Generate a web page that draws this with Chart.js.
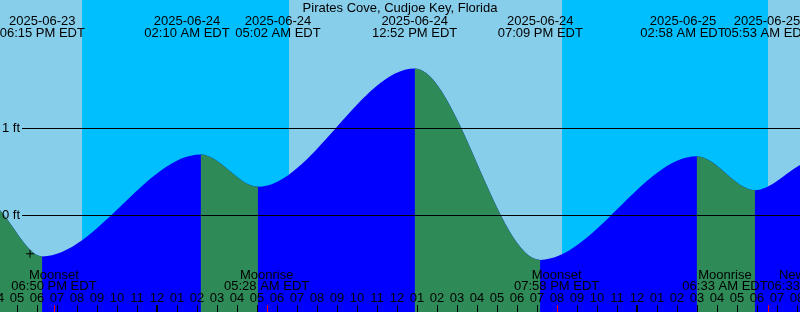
<!DOCTYPE html>
<html>
<head>
<meta charset="utf-8">
<script src="https://cdn.jsdelivr.net/npm/chart.js@4.4.1/dist/chart.umd.min.js"></script>
<style>
  html, body { margin: 0; padding: 0; background: #87ceeb; }
</style>
</head>
<body>
<canvas id="tideChart" width="800" height="312"></canvas>
<script>
// all times are hours counted from 2025-06-23 00:00 EDT
const viewStart = 16.135;
const viewEnd = 56.135;

// tide curve: visible edges plus each high / low
const tideHours  = [16.135, 18.25, 26.167, 29.033, 36.867, 43.15, 50.967, 53.883, 56.135];
const tideLevels = [0.06, -0.47, 0.70, 0.33, 1.69, -0.51, 0.68, 0.29, 0.58];

// labels of the highs / lows along the top
const tideDates = ["2025-06-23", "2025-06-24", "2025-06-24", "2025-06-24", "2025-06-24", "2025-06-25", "2025-06-25"];
const tideTimes = ["06:15 PM EDT", "02:10 AM EDT", "05:02 AM EDT", "12:52 PM EDT", "07:09 PM EDT", "02:58 AM EDT", "05:53 AM EDT"];
const tideLabelHours = [18.25, 25.485, 30.035, 36.867, 43.15, 50.285, 54.485];

// sunset -> sunrise
const nightStarts = [20.235, 44.235];
const nightEnds = [30.585, 54.535];

// moon events
const moonNames = ["Moonset", "Moonrise", "Moonset", "Moonrise", "New Moon"];
const moonTimes = ["06:50 PM EDT", "05:28 AM EDT", "07:58 PM EDT", "06:33 AM EDT", "06:33 AM EDT"];
const moonLabelHours = [18.833, 29.467, 43.967, 52.385, 56.635];
const moonEventHours = [18.833, 29.467, 43.967, 54.55];

// hour ticks along the bottom, one per hour from firstHour
const firstHour = 16;
const hourLabels = [
  "04", "05", "06", "07", "08", "09", "10", "11", "12",
  "01", "02", "03", "04", "05", "06", "07", "08", "09", "10", "11", "12",
  "01", "02", "03", "04", "05", "06", "07", "08", "09", "10", "11", "12",
  "01", "02", "03", "04", "05", "06", "07", "08"
];
const midnightHours = [24, 48];

const levelLines = [0, 1];
const levelLabels = ["0 ft", "1 ft"];

const markerHour = 17.635;
const markerLevel = -0.44;

const title = "Pirates Cove, Cudjoe Key, Florida";

const DAY = "#87ceeb";
const NIGHT = "#00bfff";
const RISING = "#0000ff";
const FALLING = "#2e8b57";
const FONT = "13px 'Liberation Sans', Arial, sans-serif";

const tidePoints = tideHours.map((h, i) => ({ x: h, y: tideLevels[i] }));

// day / night bands behind the tide
const backdrop = {
  id: "backdrop",
  beforeDatasetsDraw(chart) {
    const { ctx, chartArea: a, scales: { x } } = chart;
    ctx.save();
    ctx.fillStyle = DAY;
    ctx.fillRect(a.left, a.top, a.width, a.height);
    ctx.fillStyle = NIGHT;
    nightStarts.forEach((s, i) => {
      const x0 = Math.round(x.getPixelForValue(s));
      const x1 = Math.round(x.getPixelForValue(nightEnds[i]));
      ctx.fillRect(x0, a.top, x1 - x0, a.height);
    });
    ctx.restore();
  }
};

// level lines, texts and hour ticks on top
const overlay = {
  id: "overlay",
  afterDatasetsDraw(chart) {
    const { ctx, chartArea: a, scales: { x, y } } = chart;
    ctx.save();
    ctx.font = FONT;
    ctx.fillStyle = "#000";
    ctx.strokeStyle = "#000";
    ctx.lineWidth = 1;

    // 0 ft / 1 ft
    levelLines.forEach((v, i) => {
      const py = Math.floor(y.getPixelForValue(v)) + 0.5;
      ctx.beginPath();
      ctx.moveTo(22, py);
      ctx.lineTo(a.right, py);
      ctx.stroke();
      ctx.textAlign = "left";
      ctx.textBaseline = "middle";
      ctx.fillText(levelLabels[i], 2, py);
    });

    ctx.textBaseline = "alphabetic";
    ctx.textAlign = "center";
    ctx.fillText(title, 400, 12);

    tideLabelHours.forEach((h, i) => {
      const px = x.getPixelForValue(h);
      ctx.fillText(tideDates[i], px, 24.5);
      ctx.fillText(tideTimes[i], px, 37);
    });

    moonLabelHours.forEach((h, i) => {
      const px = x.getPixelForValue(h);
      ctx.fillText(moonNames[i], px, 278.5);
      ctx.fillText(moonTimes[i], px, 289.5);
    });

    hourLabels.forEach((lab, i) => {
      const h = firstHour + i;
      const px = Math.round(x.getPixelForValue(h));
      ctx.fillText(lab, px, 301.5);
      const thick = midnightHours.includes(h);
      ctx.fillRect(thick ? px - 1 : px, 305, thick ? 2 : 1, 7);
    });

    ctx.fillStyle = "#ff0000";
    moonEventHours.forEach(h => {
      const px = Math.round(x.getPixelForValue(h));
      ctx.fillRect(px, 305, 1, 7);
    });
    ctx.restore();
  }
};

new Chart(document.getElementById("tideChart"), {
  type: "line",
  data: {
    datasets: [
      {
        // current-time cross
        data: [{ x: markerHour, y: markerLevel }],
        showLine: false,
        pointStyle: "cross",
        pointRadius: 4,
        borderColor: "#000",
        borderWidth: 1,
        order: 0
      },
      {
        // falling stretches painted over the rising fill
        data: tidePoints,
        borderColor: "rgba(0,0,0,0)",
        borderWidth: 0,
        pointRadius: 0,
        cubicInterpolationMode: "monotone",
        fill: "start",
        backgroundColor: "rgba(0,0,0,0)",
        segment: {
          backgroundColor: c => (c.p1.parsed.y < c.p0.parsed.y ? FALLING : "rgba(0,0,0,0)")
        },
        order: 1
      },
      {
        // whole water body in the rising colour
        data: tidePoints,
        borderColor: "rgba(0,0,0,0)",
        borderWidth: 0,
        pointRadius: 0,
        cubicInterpolationMode: "monotone",
        fill: "start",
        backgroundColor: RISING,
        order: 2
      }
    ]
  },
  options: {
    responsive: false,
    animation: false,
    devicePixelRatio: 1,
    events: [],
    layout: { padding: 0, autoPadding: false },
    scales: {
      x: { type: "linear", min: viewStart, max: viewEnd, display: false },
      y: { min: -1.109, max: 2.477, display: false }
    },
    plugins: {
      legend: { display: false },
      tooltip: { enabled: false }
    }
  },
  plugins: [backdrop, overlay]
});
</script>
</body>
</html>
